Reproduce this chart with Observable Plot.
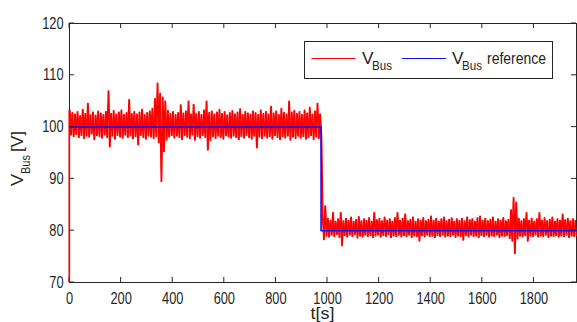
<!DOCTYPE html>
<html><head><meta charset="utf-8">
<script src="https://cdn.jsdelivr.net/npm/d3@7"></script>
<script src="https://cdn.jsdelivr.net/npm/@observablehq/plot@0.6"></script>
<style>
html,body{margin:0;padding:0;background:#fff;}
#chart{position:relative;width:577px;height:322px;}
</style></head><body><div id="chart"></div>
<script>
// ---- data ----
const xTicks = [0, 200, 400, 600, 800, 1000, 1200, 1400, 1600, 1800];
const yTicks = [70, 80, 90, 100, 110, 120];
const xDomain = [0, 1965];
const yDomain = [70, 120];
const startValue = 70;          // V_Bus at t = 0 (rises from the bottom)
const stepTime = 975;           // reference step time [s]
const refLevels = [100, 80];    // reference before / after step [V]
const binWidth = 10;            // s, each bin has a local max then a local min
const upperStart = 0;
const lowerStart = 980;
// local maxima / minima of V_Bus per 10 s bin, 0..970 s
const upperHi = [103.2,102.8,102.5,103.0,102.2,103.4,102.6,104.6,102.4,102.9,102.3,103.1,102.7,102.4,103.0,107.0,102.6,103.2,102.5,102.9,
 103.3,102.4,102.8,105.3,102.6,103.0,102.5,102.9,103.4,102.4,102.8,103.1,103.6,105.5,108.5,106.5,105.8,105.0,103.2,102.6,
 103.0,102.4,102.8,104.3,102.7,103.1,105.0,102.5,104.4,102.6,103.0,102.4,103.3,105.0,102.8,103.1,102.5,102.9,103.4,102.6,
 103.0,102.3,102.8,103.2,102.5,102.9,103.5,102.4,103.0,102.7,102.5,103.1,102.8,102.4,103.3,102.6,103.0,102.5,104.0,102.7,
 103.1,102.4,103.6,102.8,102.5,105.0,102.9,103.2,102.6,103.0,102.4,103.3,102.7,103.8,102.5,103.1,104.6,102.5];
const upperLo = [98.5,98.2,98.6,98.0,98.4,97.8,98.3,98.1,98.7,97.6,98.4,98.2,97.9,98.5,98.0,96.2,98.3,97.7,98.4,98.1,
 97.9,98.5,98.0,98.3,97.8,98.2,96.6,98.4,98.0,97.7,98.3,98.1,97.8,98.2,97.0,89.5,95.3,97.5,98.1,98.4,
 97.9,98.3,98.0,97.6,98.4,98.1,97.8,98.5,97.5,98.2,97.9,98.4,98.0,95.6,97.4,98.2,97.8,98.3,98.0,97.7,
 98.4,98.1,97.9,98.3,98.0,97.6,98.2,97.9,98.4,98.0,97.7,98.3,96.0,98.1,97.8,98.3,97.9,98.2,97.7,98.4,
 98.0,97.6,98.2,97.9,98.3,97.5,98.1,97.8,98.3,97.9,98.2,97.7,98.0,98.4,97.6,98.1,97.8,98.3];
// 980..1960 s
const lowerHi = [83.0,84.8,82.4,82.0,83.5,81.8,82.3,83.5,81.9,82.4,82.0,82.6,81.8,82.2,82.7,81.9,82.3,82.0,82.5,81.8,
 83.5,82.1,82.4,81.9,82.6,82.0,82.3,81.8,82.5,83.5,82.0,82.4,83.2,81.9,82.2,82.6,81.8,82.3,82.0,82.5,
 81.9,82.2,82.8,82.0,82.4,81.8,82.3,82.6,81.9,82.2,82.5,81.8,82.3,82.0,82.4,81.9,82.6,82.1,82.3,81.8,
 82.5,82.8,82.0,82.4,81.9,82.2,82.6,81.8,82.3,82.0,82.5,81.9,82.2,84.0,86.4,85.5,82.4,81.9,82.3,83.5,
 82.0,82.4,81.8,82.3,83.5,82.0,82.5,81.9,82.2,82.6,81.8,82.3,82.0,83.2,82.1,82.4,81.9,82.3,82.0];
const lowerLo = [78.3,79.0,78.8,79.2,78.9,79.3,78.7,77.1,79.1,78.8,79.2,78.9,79.3,78.6,79.0,78.8,79.2,78.9,79.1,78.7,
 79.0,79.2,78.8,79.1,78.9,79.3,78.7,79.0,78.9,79.2,78.8,79.1,78.9,79.2,78.7,79.0,78.9,78.0,79.1,78.8,
 79.2,78.9,79.0,78.7,79.1,78.9,79.2,78.8,79.0,78.9,79.2,78.7,79.0,78.9,78.2,79.1,78.8,79.2,78.9,79.0,
 78.7,79.1,78.9,79.2,78.8,79.0,78.9,79.2,78.7,79.0,78.9,79.1,78.5,78.0,75.6,78.4,79.0,78.8,79.1,78.0,
 79.0,78.9,79.2,78.8,79.0,78.9,79.2,78.7,79.0,78.9,79.1,78.8,79.0,78.9,79.2,78.7,79.0,78.9,79.1];

// ---- tables built from the arrays ----
const vbus = [{t: 0, v: startValue}];
function addBins(start, hi, lo) {
  hi.forEach((h, i) => {
    const t = start + i * binWidth;
    vbus.push({t, v: h});
    vbus.push({t: t + binWidth / 2, v: lo[i]});
  });
}
addBins(upperStart, upperHi, upperLo);
addBins(lowerStart, lowerHi, lowerLo);
const ref = [
  {t: xDomain[0], v: refLevels[0]}, {t: stepTime, v: refLevels[0]},
  {t: stepTime, v: refLevels[1]}, {t: xDomain[1], v: refLevels[1]}
];

const FONT = "'Liberation Sans', Arial, sans-serif";
const chart = Plot.plot({
  width: 577, height: 322,
  marginLeft: 69, marginRight: 1, marginTop: 23, marginBottom: 40,
  style: {fontFamily: FONT, fontSize: "16px", color: "#262626", background: "#fff"},
  x: {domain: xDomain, ticks: xTicks, label: null, tickSize: 0, tickPadding: 10, tickFormat: d => String(d)},
  y: {domain: yDomain, ticks: yTicks, label: null, tickSize: 0, tickPadding: 6, tickFormat: d => String(d)},
  marks: [
    Plot.frame({stroke: "#262626", strokeWidth: 1}),
    // dense measured signal: drawn twice, half a bin apart, so the band fills like the dense original samples
    Plot.line(vbus, {x: "t", y: "v", stroke: "#ff0000", strokeWidth: 1.25}),
    Plot.line(vbus.slice(1), {x: "t", y: "v", stroke: "#ff0000", strokeWidth: 1.25, dx: 0.65, clip: true}),
    Plot.line(ref, {x: "t", y: "v", stroke: "#1010ff", strokeWidth: 1.6})
  ]
});
document.getElementById("chart").append(chart);

// compress the axis text horizontally (tall narrow glyphs as in the reference)
chart.querySelectorAll("text").forEach(el => {
  const w = el.getComputedTextLength();
  el.setAttribute("textLength", (w * 0.8).toFixed(2));
  el.setAttribute("lengthAdjust", "spacingAndGlyphs");
});

const svg = d3.select(chart);
const sx = chart.scale("x"), sy = chart.scale("y");
const L = sx.apply(xDomain[0]), R = sx.apply(xDomain[1]);
const T = sy.apply(yDomain[1]), B = sy.apply(yDomain[0]);
const tk = 5;
const tg = svg.append("g").attr("stroke", "#262626").attr("stroke-width", 1);
yTicks.forEach(v => {
  const y = sy.apply(v);
  tg.append("line").attr("x1", L).attr("x2", L + tk).attr("y1", y).attr("y2", y);
  tg.append("line").attr("x1", R).attr("x2", R - tk).attr("y1", y).attr("y2", y);
});
xTicks.forEach(v => {
  const x = sx.apply(v);
  tg.append("line").attr("x1", x).attr("x2", x).attr("y1", B).attr("y2", B - tk);
  tg.append("line").attr("x1", x).attr("x2", x).attr("y1", T).attr("y2", T + tk);
});
// redraw the red start segment over the left axis, as in the reference
svg.append("line").attr("x1", L).attr("x2", L).attr("y1", sy.apply(startValue)).attr("y2", sy.apply(upperHi[0]))
  .attr("stroke", "#ff0000").attr("stroke-width", 1);

function txt(g, x, y, s, size, len, anchor = "start") {
  const t = g.append("text").attr("x", x).attr("y", y).attr("font-family", FONT)
    .attr("font-size", size).attr("fill", "#262626").attr("text-anchor", anchor).text(s);
  if (len) t.attr("textLength", len).attr("lengthAdjust", "spacingAndGlyphs");
  return t;
}
// y label: V_Bus [V]
const yl = svg.append("g").attr("transform", `translate(23,155) rotate(-90)`);
txt(yl, -31, 0, "V", 16, 12);
txt(yl, -19, 7, "Bus", 12, 19);
txt(yl, 3, 0, "[V]", 16, 21);
// x label
txt(svg, (L + R) / 2, 319, "t[s]", 16, 24, "middle");

// legend
const lg = svg.append("g");
lg.append("rect").attr("x", 304.5).attr("y", 41.5).attr("width", 248).attr("height", 37)
  .attr("fill", "#fff").attr("stroke", "#262626").attr("stroke-width", 1);
lg.append("line").attr("x1", 311.5).attr("x2", 355.5).attr("y1", 58.5).attr("y2", 58.5).attr("stroke", "#ff0000");
txt(lg, 362, 63.5, "V", 16, 11.5);
txt(lg, 372, 70, "Bus", 12, 20);
lg.append("line").attr("x1", 402).attr("x2", 446).attr("y1", 58.5).attr("y2", 58.5).attr("stroke", "#1010ff");
txt(lg, 452, 63.5, "V", 16, 11.5);
txt(lg, 462, 70, "Bus", 12, 20);
txt(lg, 487, 63.5, "reference", 16, 59);
</script></body></html>
